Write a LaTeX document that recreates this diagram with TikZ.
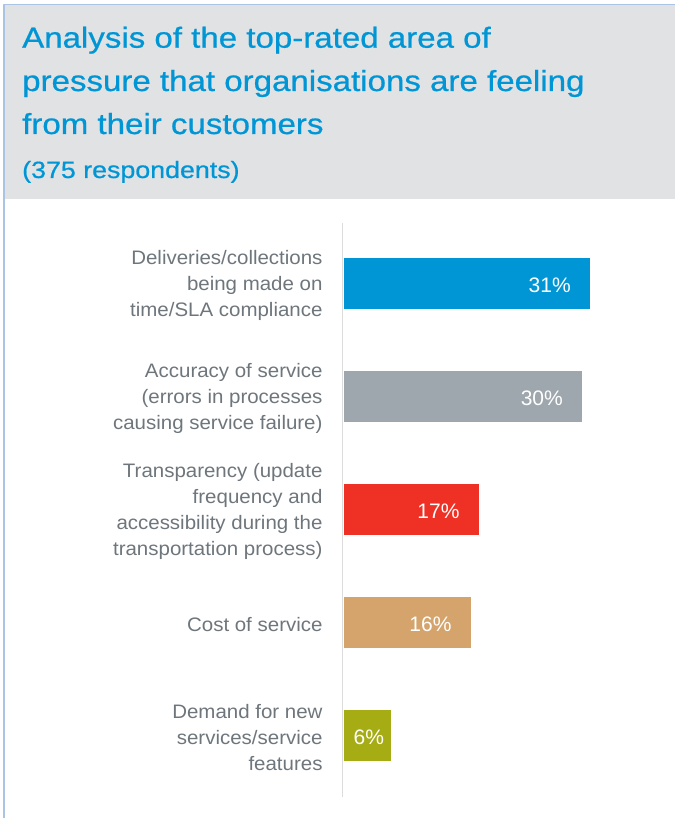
\documentclass[tikz,border=0pt]{standalone}
\usepackage{fontspec}
\setmainfont{Liberation Sans}
\newfontfamily\titlefont[FakeStretch=1.14,FakeBold=0.7]{Liberation Sans}
\newfontfamily\lblfont[FakeStretch=1.05]{Liberation Sans}
\definecolor{headgray}{HTML}{E1E2E4}
\definecolor{frameblue}{HTML}{A9C5E3}
\definecolor{titleblue}{HTML}{0096D6}
\definecolor{lblgray}{HTML}{6E767C}
\definecolor{axisgray}{HTML}{DCDCDC}
\definecolor{barblue}{HTML}{0096D6}
\definecolor{bargray}{HTML}{9EA7AD}
\definecolor{barred}{HTML}{EE3124}
\definecolor{bartan}{HTML}{D4A46C}
\definecolor{barolive}{HTML}{A6AC14}
\tikzset{
	headline/.style={font=\titlefont\fontsize{29}{43}\selectfont,text=titleblue,anchor=base west,inner sep=0pt},
	subline/.style={font=\titlefont\fontsize{23.5}{30}\selectfont,text=titleblue,anchor=base west,inner sep=0pt},
	lbl/.style={font=\lblfont\fontsize{19.5}{26}\selectfont,text=lblgray,align=right,anchor=east,inner sep=0pt},
	pct/.style={font=\fontsize{21}{25}\selectfont,text=white,anchor=east,inner sep=0pt},
	axisline/.style={draw=axisgray,line width=1.5pt}
}
\begin{document}
\begin{tikzpicture}[x=1pt,y=-1pt,line join=round]
	\useasboundingbox (0,0) rectangle (675,818);
	%Header panel
	\fill[headgray] (4.5,4.5) rectangle (675,199);
	\draw[frameblue,line width=1.5pt] (4,818) -- (4,4.5) -- (675,4.5);
	%Title
	\node[headline] (t1) at (22,47.7) {Analysis of the top-rated area of};
	\node[headline] (t2) at (22,91) {pressure that organisations are feeling};
	\node[headline] (t3) at (22,134) {from their customers};
	\node[subline] (sub) at (22,178) {(375 respondents)};
	%Axis
	\path (342.7,223) coordinate (ax0) (342.7,797) coordinate (ax1);
	\draw[axisline] (ax0) -- (ax1);
	%Bars
	\foreach \i/\v/\c/\d/\txt in {
		1/31/barblue/19/{Deliveries/collections\\being made on\\time/SLA compliance},
		2/30/bargray/19/{Accuracy of service\\(errors in processes\\causing service failure)},
		3/17/barred/19/{Transparency (update\\frequency and\\accessibility during the\\transportation process)},
		4/16/bartan/19/{Cost of service},
		5/6/barolive/7/{Demand for new\\services/service\\features}}{
		\pgfmathsetmacro\y{283.7+113*(\i-1)}
		\fill[\c] (343.5,\y-25.6) rectangle ({343.5+7.95*\v},\y+25.6);
		\node[pct] (p\i) at ({343.5+7.95*\v-\d},\y+1.8) {\v\%};
		\node[lbl] (l\i) at (322.7,\y+2) {\txt};
	}
\end{tikzpicture}
\end{document}
